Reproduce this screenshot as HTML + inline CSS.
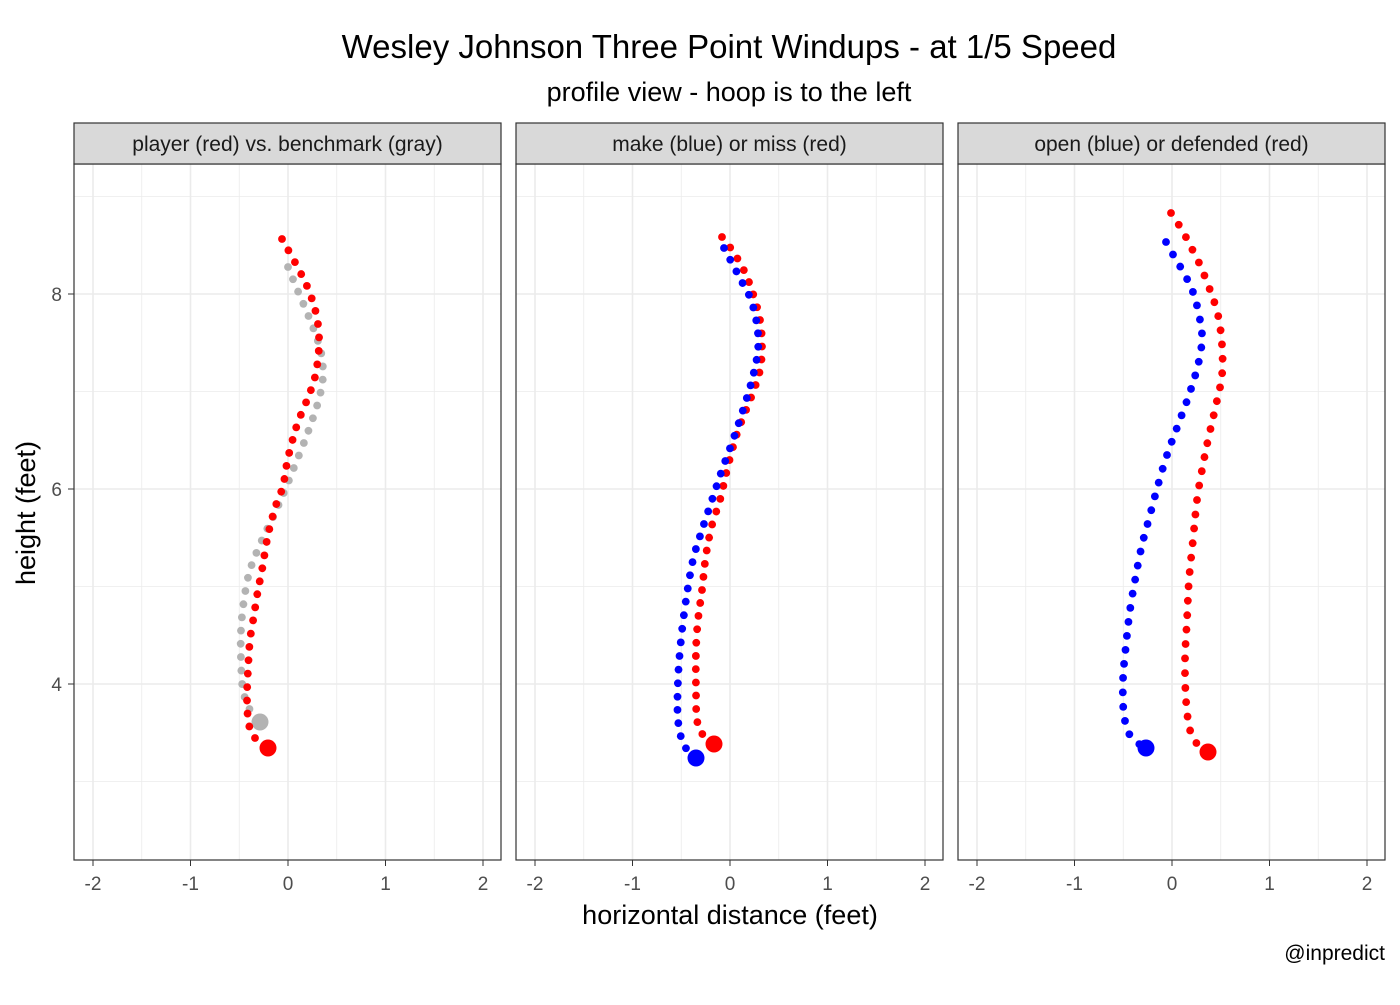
<!DOCTYPE html><html><head><style>body{margin:0;background:#fff}</style></head><body>
<svg id="s" width="1400" height="1000" xmlns="http://www.w3.org/2000/svg" font-family="Liberation Sans, sans-serif">
<rect width="1400" height="1000" fill="#fff"/>
<text x="729" y="58" font-size="33" text-anchor="middle" fill="#000">Wesley Johnson Three Point Windups - at 1/5 Speed</text>
<text x="729" y="101" font-size="27" text-anchor="middle" fill="#000">profile view - hoop is to the left</text>
<text x="730" y="924" font-size="27" text-anchor="middle" fill="#000">horizontal distance (feet)</text>
<text transform="translate(35,513) rotate(-90)" font-size="27" text-anchor="middle" fill="#000">height (feet)</text>
<text x="1385" y="960" font-size="21" text-anchor="end" fill="#000">@inpredict</text>
<g id="g"></g>
</svg>
<script>
const NS="http://www.w3.org/2000/svg",g=document.getElementById('g');
function el(t,a,txt){const e=document.createElementNS(NS,t);for(const k in a)e.setAttribute(k,a[k]);if(txt)e.textContent=txt;g.appendChild(e);return e;}
const panels=[[74,"player (red) vs. benchmark (gray)"],[516,"make (blue) or miss (red)"],[958,"open (blue) or defended (red)"]];
const Y=v=>294-(v-8)*97.5;
panels.forEach(([x0,lab],i)=>{
 const zx=x0+214;
 el('rect',{x:x0,y:164,width:427,height:696,fill:'#fff'});
 for(let v=-2.5;v<=2.5;v+=0.5){const x=zx+v*97.5;if(x<x0||x>x0+427)continue;el('line',{x1:x,x2:x,y1:164,y2:860,stroke:'#ebebeb','stroke-width':Number.isInteger(v)?1.6:0.8});}
 [3,5,7,9].forEach(v=>el('line',{x1:x0,x2:x0+427,y1:Y(v),y2:Y(v),stroke:'#ebebeb','stroke-width':0.8}));
 [4,6,8].forEach(v=>el('line',{x1:x0,x2:x0+427,y1:Y(v),y2:Y(v),stroke:'#ebebeb','stroke-width':1.6}));
 el('rect',{x:x0,y:164,width:427,height:696,fill:'none',stroke:'#333','stroke-width':1.2});
 el('rect',{x:x0,y:123,width:427,height:41,fill:'#d9d9d9',stroke:'#333','stroke-width':1.2});
 el('text',{x:x0+213.5,y:151,'font-size':21,'text-anchor':'middle',fill:'#1a1a1a'},lab);
 [-2,-1,0,1,2].forEach(v=>{const x=zx+v*97.5;el('line',{x1:x,x2:x,y1:860,y2:866,stroke:'#333'});el('text',{x:x,y:890,'font-size':19,'text-anchor':'middle',fill:'#4d4d4d'},String(v));});
});
[4,6,8].forEach(v=>{el('line',{x1:68,x2:74,y1:Y(v),y2:Y(v),stroke:'#333'});el('text',{x:62,y:Y(v)+7,'font-size':19,'text-anchor':'end',fill:'#4d4d4d'},String(v));});
function cr(p){const out=[];for(let i=0;i<p.length-1;i++){const a=p[Math.max(i-1,0)],b=p[i],c=p[i+1],d=p[Math.min(i+2,p.length-1)];for(let t=0;t<1;t+=0.02){const t2=t*t,t3=t2*t;const f=(k)=>0.5*(2*b[k]+(-a[k]+c[k])*t+(2*a[k]-5*b[k]+4*c[k]-d[k])*t2+(-a[k]+3*b[k]-3*c[k]+d[k])*t3);out.push([f(0),f(1)]);}}out.push(p[p.length-1]);return out;}
function series(p,col,sp){const c=cr(p);let acc=0,pts=[c[0]];for(let i=1;i<c.length;i++){acc+=Math.hypot(c[i][0]-c[i-1][0],c[i][1]-c[i-1][1]);if(acc>=sp){pts.push(c[i]);acc=0;}}
 pts.forEach(q=>el('circle',{cx:q[0],cy:q[1],r:3.9,fill:col}));const e=p[p.length-1];el('circle',{cx:e[0],cy:e[1],r:8.5,fill:col});}
series([[288,267],[297,289],[306,310],[314,330],[321,352],[323,375],[320,395],[314,415],[305,440],[295,465],[285,490],[274,515],[262,540],[250,570],[244,600],[241,630],[241,660],[243,690],[250,710],[260,722]],'#b3b3b3',13);
series([[282,239],[297,266],[309,291],[317,318],[319,346],[315,377],[307,400],[297,425],[288,458],[283,486],[276,505],[268,535],[262,570],[258,590],[254,615],[250,640],[248,670],[247,700],[249,725],[255,738],[268,748]],'#ff0000',13);
series([[722,237],[732,250],[740,263],[747,277],[754,297],[760,320],[762,345],[760,370],[752,395],[742,420],[735,440],[727,470],[720,500],[712,525],[706,555],[702,590],[698,620],[696,650],[696,690],[697,720],[703,735],[714,744]],'#ff0000',13);
series([[724,248],[733,265],[742,282],[751,300],[757,325],[758,350],[752,380],[743,410],[733,440],[722,470],[712,500],[702,530],[693,560],[686,600],[681,640],[678,680],[678,720],[684,745],[696,758]],'#0000ff',13);
series([[1171,213],[1182,230],[1191,247],[1200,265],[1210,290],[1218,315],[1222,345],[1222,375],[1216,405],[1208,440],[1202,470],[1197,500],[1193,540],[1189,580],[1187,620],[1185,660],[1186,700],[1190,730],[1198,745],[1208,752]],'#ff0000',14);
series([[1166,242],[1175,258],[1185,275],[1194,295],[1200,320],[1202,340],[1198,365],[1189,395],[1178,425],[1167,455],[1158,485],[1150,515],[1142,545],[1136,575],[1130,610],[1126,645],[1123,680],[1124,715],[1131,737],[1146,748]],'#0000ff',14);
</script>
</body></html>
